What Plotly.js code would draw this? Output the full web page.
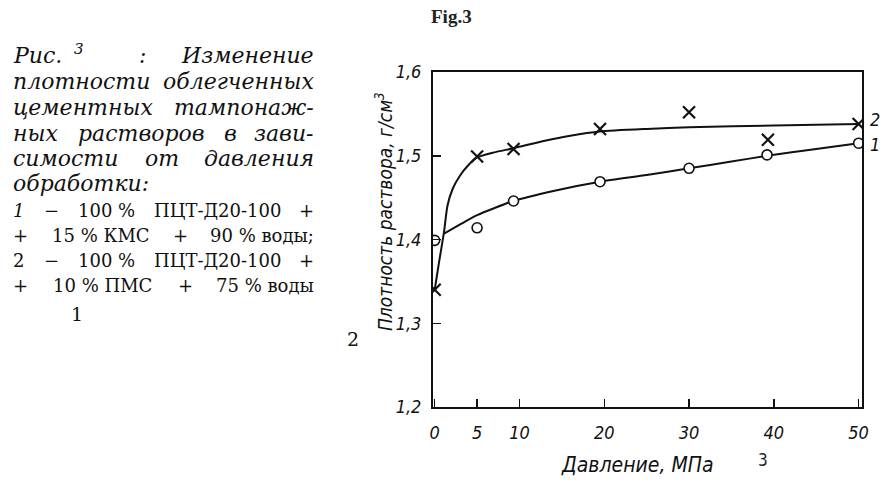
<!DOCTYPE html>
<html><head><meta charset="utf-8">
<script src="https://cdn.plot.ly/plotly-3.0.1.min.js"></script>
<style>html,body{margin:0;padding:0;background:#fff}#chart{width:883px;height:482px}</style>
</head><body><div id="chart"></div>
<script>
// ---- data ----
const pressure1 = [0, 5, 9.3, 19.5, 30, 39.2, 50];
const density1  = [1.399, 1.414, 1.446, 1.469, 1.485, 1.501, 1.515];
const pressure2 = [0, 5, 9.3, 19.5, 30, 39.3, 50];
const density2  = [1.340, 1.499, 1.508, 1.532, 1.552, 1.519, 1.538];
// smoothed curves as drawn
const curve1X = [1.1, 3, 5, 9.3, 14, 19.5, 25, 30, 35, 39.2, 45, 50];
const curve1Y = [1.407, 1.418, 1.429, 1.446, 1.458, 1.469, 1.477, 1.485, 1.493, 1.500, 1.508, 1.515];
const curve2X = [0, 0.5, 1.1, 1.5, 2.1, 2.9, 3.9, 5, 7, 9.3, 13, 16, 19.5, 25, 30, 40, 50];
const curve2Y = [1.340, 1.372, 1.409, 1.440, 1.460, 1.475, 1.488, 1.498, 1.504, 1.509, 1.518, 1.524, 1.529, 1.532, 1.534, 1.536, 1.538];

const xTickVals = [0, 5, 10, 20, 30, 40, 50];
const xTickText = ["0", "5", "10", "20", "30", "40", "50"];
const yTickVals = [1.2, 1.3, 1.4, 1.5, 1.6];
const yTickText = ["1,2", "1,3", "1,4", "1,5", "1,6"];

const xTitle = "Давление, МПа";
const yTitle = "Плотность раствора, г/см<sup>3</sup>";
const curveLabels = ["2", "1"];

const captionHead = ["Рис.", "3", ":", "Изменение"];
const captionItalic = [
  ["плотности", "облегченных"],
  ["цементных", "тампонаж-"],
  ["ных", "растворов", "в", "зави-"],
  ["симости", "от", "давления"]
];
const captionLast = "обработки:";
const compLines = [
  ["1", "−", "100 %", "ПЦТ-Д20-100", "+"],
  ["+", "15 % КМС", "+", "90 % воды;"],
  ["2", "−", "100 %", "ПЦТ-Д20-100", "+"],
  ["+", "10 % ПМС", "+", "75 % воды"]
];
const figLabel = "Fig.3";

// ---- layout geometry ----
const L = 433, R = 862, T = 72, B = 407;
const W = R - L, H = B - T;
const px = x => (x - L) / W;
const py = y => (B - y) / H;

const sansIt = {family: "DejaVu Sans Condensed, DejaVu Sans", size: 17, color: "#111", style: "italic"};
const serifIt = {family: "DejaVu Serif", size: 22, color: "#111", style: "italic"};
const serif = {family: "DejaVu Serif", size: 18, color: "#111"};

function ann(text, x, y, font, xanchor, extra) {
  return Object.assign({xref: "paper", yref: "paper", x: px(x), y: py(y), text: text,
    showarrow: false, xanchor: xanchor || "left", yanchor: "middle", font: font, borderpad: 0}, extra || {});
}

const cv = document.createElement("canvas").getContext("2d");
function measure(t, font) {
  cv.font = (font.style === "italic" ? "italic " : "") + font.size + "px '" + font.family.split(",")[0].trim() + "'";
  return cv.measureText(t).width;
}
// justified line: first word flush left, last word flush right, inner words spread evenly
function justify(words, y, font, left, right, out, fmt) {
  const ws = words.map(w => measure(w, font));
  const total = ws.reduce((a, b) => a + b, 0);
  const n = words.length;
  const gap = n > 1 ? (right - left - total) / (n - 1) : 0;
  let x = left;
  words.forEach((w, i) => {
    const t = fmt ? fmt(w, i) : w;
    if (i === n - 1 && n > 1) out.push(ann(t, right, y, font, "right"));
    else out.push(ann(t, x, y, font, "left"));
    x += ws[i] + gap;
  });
}

const annotations = [];
annotations.push(ann(captionHead[0], 12, 55, serifIt));
annotations.push(ann(captionHead[1], 73, 49, Object.assign({}, serifIt, {size: 15})));
annotations.push(ann(captionHead[2], 138, 56, serifIt));
annotations.push(ann(captionHead[3], 315, 55, serifIt, "right"));
const itY = [81, 107, 133, 158];
captionItalic.forEach((ws, i) => justify(ws, itY[i], serifIt, 12, 315, annotations));
annotations.push(ann(captionLast, 12, 183, serifIt));
const compY = [210, 235, 260, 285];
compLines.forEach((ws, i) => justify(ws, compY[i], serif, 12, 315, annotations,
  (w, j) => (i === 0 && j === 0) ? "<i>" + w + "</i>" : w));
annotations.push(ann("1", 77, 314, Object.assign({}, serif, {size: 19}), "center"));
// marks of the scan
annotations.push(ann(figLabel, 451, 16, {family: "Liberation Serif", size: 19, color: "#222", weight: "bold"}, "center"));
annotations.push(ann("2", 353, 339, Object.assign({}, serif, {size: 19}), "center"));
// axis titles
annotations.push(ann(yTitle, 384, 212, Object.assign({}, sansIt, {size: 19}), "center", {textangle: -90}));
annotations.push(ann(xTitle, 637, 465, Object.assign({}, sansIt, {size: 21}), "center"));
annotations.push(ann("3", 763, 460, {family: "DejaVu Sans Condensed, DejaVu Sans", size: 17, color: "#222"}, "center"));
// curve numbers
annotations.push(ann(curveLabels[0], 869, 119, Object.assign({}, sansIt, {size: 18})));
annotations.push(ann(curveLabels[1], 869, 144, Object.assign({}, sansIt, {size: 18})));

const traces = [
  {x: curve2X, y: curve2Y, mode: "lines", line: {color: "#111", width: 2, shape: "spline", smoothing: 0.6}, hoverinfo: "skip"},
  {x: curve1X, y: curve1Y, mode: "lines", line: {color: "#111", width: 2, shape: "spline", smoothing: 0.6}, hoverinfo: "skip"},
  {x: pressure1, y: density1, mode: "markers", name: "1",
   marker: {symbol: "circle", size: 10, color: "#fff", line: {color: "#111", width: 1.6}}},
  {x: pressure2, y: density2, mode: "markers", name: "2",
   marker: {symbol: "x-thin-open", size: 12, color: "#111", line: {color: "#111", width: 2.2}}}
];

const layout = {
  width: 883, height: 482,
  margin: {l: L, r: 883 - R, t: T, b: 482 - B, pad: 0},
  paper_bgcolor: "#fff", plot_bgcolor: "#fff",
  showlegend: false,
  xaxis: {range: [-0.2, 50.4], tickvals: xTickVals, ticktext: xTickText, ticks: "inside", ticklen: 8,
    tickwidth: 1.5, tickcolor: "#111", showline: true, linecolor: "#111", linewidth: 2, mirror: true,
    showgrid: false, zeroline: false, tickfont: Object.assign({}, sansIt, {size: 18}), ticklabelstandoff: 8},
  yaxis: {range: [1.2, 1.6], tickvals: yTickVals, ticktext: yTickText, ticks: "inside", ticklen: 8,
    tickwidth: 1.5, tickcolor: "#111", showline: true, linecolor: "#111", linewidth: 2, mirror: true,
    showgrid: false, zeroline: false, tickfont: Object.assign({}, sansIt, {size: 18}), ticklabelstandoff: 6},
  annotations: annotations
};
Plotly.newPlot("chart", traces, layout, {displayModeBar: false, staticPlot: true});
</script></body></html>
